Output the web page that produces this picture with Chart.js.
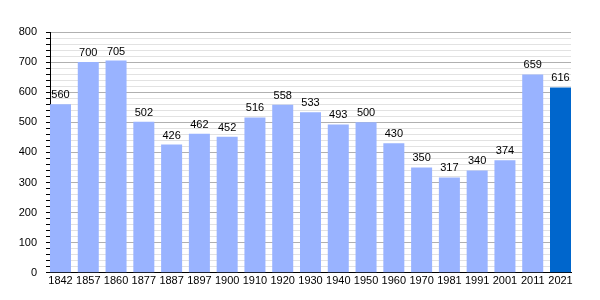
<!DOCTYPE html>
<html>
<head>
<meta charset="utf-8">
<script src="https://cdn.jsdelivr.net/npm/chart.js@4/dist/chart.umd.min.js"></script>
<style>
  html, body { margin: 0; padding: 0; background: #fff; }
  #wrap { width: 600px; height: 300px; }
</style>
</head>
<body>
<div id="wrap"><canvas id="grafica"></canvas></div>
<script>
const anios = ['1842', '1857', '1860', '1877', '1887', '1897', '1900', '1910', '1920', '1930',
    '1940', '1950', '1960', '1970', '1981', '1991', '2001', '2011', '2021'];
const poblacion = [560, 700, 705, 502, 426, 462, 452, 516, 558, 533,
    493, 500, 430, 350, 317, 340, 374, 659, 616];
const colores = anios.map((a, i) => i === anios.length - 1 ? '#0066cc' : '#99b3ff');

// fraccion del paso ocupada por cada barra (las barras de los extremos tocan los bordes)
const anchoBarra = 0.756;

// etiquetas encima de cada barra
const etiquetasBarras = {
    id: 'etiquetasBarras',
    afterDatasetsDraw(chart) {
        const ctx = chart.ctx;
        const meta = chart.getDatasetMeta(0);
        ctx.save();
        ctx.font = '11px "Liberation Sans", Arial, sans-serif';
        ctx.fillStyle = '#000';
        ctx.textAlign = 'center';
        ctx.textBaseline = 'alphabetic';
        meta.data.forEach((barra, i) => {
            ctx.fillText(String(poblacion[i]), barra.x, barra.y - 6);
        });
        ctx.restore();
    }
};

const ctx = document.getElementById('grafica').getContext('2d');
new Chart(ctx, {
    type: 'bar',
    data: {
        datasets: [{
            data: poblacion.map((v, i) => ({ x: i, y: v })),
            backgroundColor: colores,
            borderWidth: 0,
            barPercentage: anchoBarra,
            categoryPercentage: 1
        }]
    },
    options: {
        responsive: true,
        maintainAspectRatio: false,
        animation: false,
        layout: { padding: { top: 32, right: 29, left: 0, bottom: 10 } },
        plugins: {
            legend: { display: false },
            tooltip: { enabled: false }
        },
        scales: {
            x: {
                type: 'linear',
                offset: false,
                min: -anchoBarra / 2,
                max: anios.length - 1 + anchoBarra / 2,
                afterBuildTicks(scale) {
                    scale.ticks = anios.map((a, i) => ({ value: i }));
                },
                grid: { display: false, drawTicks: false },
                border: { color: '#000', width: 1 },
                ticks: {
                    color: '#000',
                    padding: 2,
                    maxRotation: 0,
                    autoSkip: false,
                    font: { family: '"Liberation Sans", Arial, sans-serif', size: 11 },
                    callback: v => anios[v] || ''
                }
            },
            y: {
                min: 0,
                max: 800,
                afterFit(scale) { scale.width = 50; },
                border: { color: '#000', width: 1 },
                grid: {
                    color: c => (c.tick && c.tick.value % 100 === 0) ? '#b0b0b0' : '#e2e2e2',
                    tickColor: '#000',
                    tickLength: 4
                },
                ticks: {
                    stepSize: 20,
                    autoSkip: false,
                    color: '#000',
                    padding: 9,
                    font: { family: '"Liberation Sans", Arial, sans-serif', size: 11 },
                    callback: v => v % 100 === 0 ? v : ''
                }
            }
        }
    },
    plugins: [etiquetasBarras]
});
</script>
</body>
</html>
